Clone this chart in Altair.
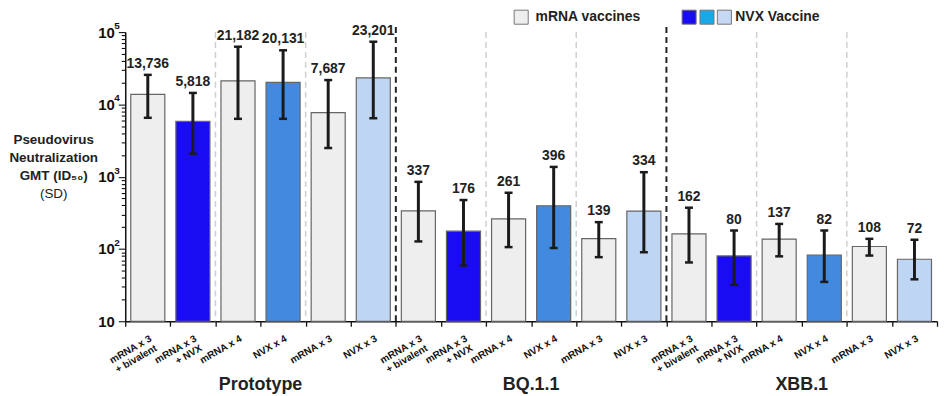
import altair as alt
import pandas as pd

FONT = "Liberation Sans"

groups = ["Prototype", "BQ.1.1", "XBB.1"]
vaccines = ["mRNA x 3\n+ bivalent", "mRNA x 3\n+ NVX\u00a0\u00a0\u00a0\u00a0", "mRNA x 4",
            "NVX x 4", "mRNA x 3", "NVX x 3"]
kinds = ["mRNA", "NVX boost", "mRNA", "NVX x 4", "mRNA", "NVX x 3"]

gmt_prototype = [13736, 5818, 21182, 20131, 7687, 23201]
gmt_bq11 = [337, 176, 261, 396, 139, 334]
gmt_xbb1 = [162, 80, 137, 82, 108, 72]

low_prototype = [6520, 2080, 6310, 6310, 2490, 6430]
low_bq11 = [127, 59, 106, 103, 77, 90]
low_xbb1 = [65, 32, 79, 35, 81, 38]

high_prototype = [25600, 14400, 62800, 56000, 21700, 73600]
high_bq11 = [848, 475, 599, 1364, 235, 1153]
high_xbb1 = [372, 180, 222, 180, 138, 134]

kind_domain = ["mRNA", "NVX boost", "NVX x 4", "NVX x 3"]
kind_colors = ["#eeeeee", "#1a0cf2", "#428ae0", "#bed5f3"]

decades = [100, 1000, 10000, 100000]
exponents = ["2", "3", "4", "5"]
y_ticks = [d * k for d in (10, 100, 1000, 10000) for k in range(1, 10)] + [100000]

rows = []
for g, gm, lo, hi in zip(groups,
                         [gmt_prototype, gmt_bq11, gmt_xbb1],
                         [low_prototype, low_bq11, low_xbb1],
                         [high_prototype, high_bq11, high_xbb1]):
    for v, k, a, b, c in zip(vaccines, kinds, gm, lo, hi):
        rows.append({"id": f"{g}|{v}", "group": g, "kind": k, "gmt": a, "lo": b, "hi": c})
df = pd.DataFrame(rows)
ids = list(df["id"])

gray_div = pd.DataFrame({"id": [ids[i] for i in (2, 4, 8, 10, 14, 16)]})
black_div = pd.DataFrame({"id": [ids[i] for i in (6, 12)]})
group_titles = pd.DataFrame({"id": [ids[i] for i in (3, 9, 15)], "name": groups})
sup_df = pd.DataFrame({"v": decades, "e": exponents})
one = pd.DataFrame({"_": [0]})

x_scale = alt.Scale(domain=ids, paddingInner=0, paddingOuter=0)
x_axis = alt.Axis(
    title=None, labelAngle=-30, labelFont=FONT, labelFontSize=10, labelFontWeight="bold",
    labelColor="#111", labelLineHeight=11, labelPadding=7, tickBand="extent", tickSize=5,
    tickColor="#111", tickWidth=1.3, domainColor="#111", domainWidth=1.5, grid=False,
    labelExpr="isString(datum.value) ? split(split(datum.value, '|')[1], '\\n') : ''",
)

y_scale = alt.Scale(type="log", domain=[10, 100000], nice=False)
major_test = "indexof([10, 100, 1000, 10000, 100000], datum.value) >= 0"
y_axis = alt.Axis(
    title=None, values=y_ticks, grid=False, labelFont=FONT, labelFontSize=15,
    labelFontWeight="bold", labelColor="#111", labelPadding=4,
    labelExpr="indexof([10, 100, 1000, 10000, 100000], datum.value) >= 0 ? '10' : ''",
    tickSize={"condition": {"test": major_test, "value": 7}, "value": 4},
    tickColor="#111", tickWidth=1.1, domainColor="#111", domainWidth=1.5,
)


def X(bp=None):
    if bp is None:
        return alt.X("id:N", scale=x_scale, axis=x_axis)
    return alt.X("id:N", scale=x_scale, axis=x_axis, bandPosition=bp)


def Y(field):
    return alt.Y(f"{field}:Q", scale=y_scale, axis=y_axis, stack=None)


gray_lines = alt.Chart(gray_div).mark_rule(
    color="#cfcfcf", strokeWidth=1.5, strokeDash=[6, 4]
).encode(x=X(0), y=alt.value(0), y2=alt.value(291))

black_lines = alt.Chart(black_div).mark_rule(
    color="#222", strokeWidth=2, strokeDash=[6, 4]
).encode(x=X(0), y=alt.value(-5), y2=alt.value(291))

bars = alt.Chart(df).mark_bar(
    width={"band": 0.755}, stroke="#666666", strokeWidth=1.2
).encode(
    x=X(), y=Y("gmt"), y2=alt.value(291),
    color=alt.Color("kind:N", scale=alt.Scale(domain=kind_domain, range=kind_colors), legend=None),
)

err = alt.Chart(df).mark_rule(color="#1b1b1b", strokeWidth=3).encode(
    x=X(), y=Y("lo"), y2="hi:Q"
)
cap_lo = alt.Chart(df).mark_point(
    shape="stroke", size=64, strokeWidth=2.5, color="#1b1b1b", opacity=1, filled=False
).encode(x=X(), y=Y("lo"))
cap_hi = alt.Chart(df).mark_point(
    shape="stroke", size=64, strokeWidth=2.5, color="#1b1b1b", opacity=1, filled=False
).encode(x=X(), y=Y("hi"))

values = alt.Chart(df).mark_text(
    baseline="bottom", dy=-4, font=FONT, fontSize=14, fontWeight="bold", color="#222"
).encode(x=X(), y=Y("hi"), text=alt.Text("gmt:Q", format=","))

sups = alt.Chart(sup_df).mark_text(
    font=FONT, fontSize=10, fontWeight="bold", color="#111", align="left", baseline="middle", dy=-6
).encode(x=alt.value(-11), y=Y("v"), text="e:N")

titles = alt.Chart(group_titles).mark_text(
    font=FONT, fontSize=18, fontWeight="bold", color="#222", baseline="middle"
).encode(x=X(0), y=alt.value(355), text="name:N")

ytitle = alt.Chart(one).mark_text(
    font=FONT, fontSize=13.5, fontWeight="bold", color="#222", lineBreak="\n",
    lineHeight=18, baseline="middle", align="center"
).encode(x=alt.value(-72), y=alt.value(109),
         text=alt.value("Pseudovirus\nNeutralization\nGMT (ID\u2085\u2080)"))
ysd = alt.Chart(one).mark_text(
    font=FONT, fontSize=13.5, color="#222", baseline="middle", align="center"
).encode(x=alt.value(-72), y=alt.value(163), text=alt.value("(SD)"))


def swatch(xpos, color):
    return alt.Chart(one).mark_square(
        size=200, fill=color, stroke="#777", strokeWidth=1, opacity=1, filled=True
    ).encode(x=alt.value(xpos), y=alt.value(-15))


def legend_text(xpos, label):
    return alt.Chart(one).mark_text(
        font=FONT, fontSize=14, fontWeight="bold", color="#222", align="left", baseline="middle"
    ).encode(x=alt.value(xpos), y=alt.value(-15), text=alt.value(label))


legend = [
    swatch(398.5, "#eeeeee"), legend_text(413, "mRNA vaccines"),
    swatch(567.5, "#1a0cf2"), swatch(585.5, "#1aa8e8"), swatch(603, "#c5d9f5"),
    legend_text(614, "NVX Vaccine"),
]

chart = alt.layer(
    gray_lines, black_lines, bars, err, cap_lo, cap_hi, values, sups, titles, ytitle, ysd, *legend
).properties(
    width=817, height=291,
    autosize=alt.AutoSizeParams(type="none"),
    padding={"left": 118, "top": 23, "right": 2, "bottom": 72},
    background="white",
).configure_view(stroke=None)

chart.save("out.html", embed_options={"renderer": "svg", "actions": False})
